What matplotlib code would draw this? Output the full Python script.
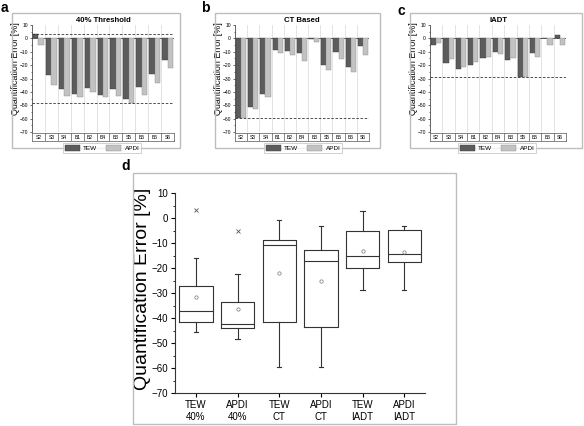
import numpy as np
import matplotlib
matplotlib.use('Agg')
from matplotlib import pyplot as plt
from matplotlib.patches import Rectangle, Patch

plt.rcParams['font.family'] = ['Liberation Sans', 'DejaVu Sans']

# values
categories = ['S2', 'S3', 'S4', 'B1', 'B2', 'B4', 'B3', 'S5', 'B5', 'B6', 'S6']
tew_40 = [3.2, -27.3, -38.0, -41.7, -37.2, -42.7, -38.0, -45.4, -36.7, -27.0, -15.9]
apdi_40 = [-5.0, -35.2, -43.4, -43.9, -40.2, -43.9, -43.2, -48.4, -42.2, -33.7, -22.3]
tew_ct = [-59.5, -51.5, -41.5, -8.75, -9.5, -10.75, -0.75, -20.0, -10.25, -21.5, -6.0]
apdi_ct = [-59.5, -52.5, -43.75, -11.0, -12.75, -17.0, -3.0, -23.5, -15.75, -25.5, -12.75]
tew_iadt = [-5.0, -18.25, -23.0, -20.0, -15.0, -10.25, -16.0, -28.75, -11.25, 0.25, 2.75]
apdi_iadt = [-3.25, -15.75, -21.25, -17.5, -13.75, -11.5, -14.75, -28.75, -14.25, -4.75, -4.75]
box_labels = ['TEW\n40%', 'APDI\n40%', 'TEW\nCT', 'APDI\nCT', 'TEW\nIADT', 'APDI\nIADT']

TEW_COLOR = '#5c5c5c'
APDI_COLOR = '#c2c2c2'

W, H = 584, 426
fig = plt.figure(figsize=(W / 100, H / 100), dpi=100)


def rect(x0, y0, x1, y1):
    # pixel box (top-left origin) -> figure fraction
    return [x0 / W, 1 - y1 / H, (x1 - x0) / W, (y1 - y0) / H]


def frame(x0, y0, x1, y1):
    fig.patches.append(Rectangle((x0 / W, 1 - y1 / H), (x1 - x0) / W, (y1 - y0) / H,
                                 transform=fig.transFigure, fill=False,
                                 ec='#bdbdbd', lw=1.0, zorder=0))


def bar_panel(letter, title, tew, apdi, refs, box, plot, label_right, letter_xy, legend_x):
    frame(*box)
    px0, py0, px1, py1 = plot
    ax = fig.add_axes(rect(px0, py0, px1, py1))
    x = np.arange(len(categories))
    ax.bar(x - 0.21, tew, 0.42, color=TEW_COLOR, ec='#3c3c3c', lw=0.3, zorder=3)
    ax.bar(x + 0.21, apdi, 0.42, color=APDI_COLOR, ec='#8c8c8c', lw=0.3, zorder=3)
    for b in np.arange(len(categories) + 1) - 0.5:
        ax.axvline(b, color='#dedede', lw=0.6, zorder=0)
    ax.axhline(0, color='#444444', lw=0.6, zorder=2)
    for r in refs:
        ax.axhline(r, color='#333333', lw=0.6, ls=(0, (3, 2)), zorder=4)
    ax.set_xlim(-0.5, len(categories) - 0.5)
    ax.set_ylim(-70, 10)
    ax.set_xticks([])
    ax.set_yticks(np.arange(-70, 11, 10))
    ax.set_yticks(np.arange(-70, 11, 5), minor=True)
    ax.tick_params(axis='y', which='major', labelsize=3.6, length=1.8, width=0.4, pad=1)
    ax.tick_params(axis='y', which='minor', length=1.0, width=0.4)
    for s in ['top', 'right', 'bottom']:
        ax.spines[s].set_visible(False)
    ax.spines['left'].set_linewidth(0.5)
    ax.spines['left'].set_color('#333333')
    ax.set_title(title, fontsize=5.6, fontweight='bold', pad=2.5)
    ax.set_ylabel('Quantification Error [%]', fontsize=6.4)
    ax.yaxis.set_label_coords((label_right - px0) / (px1 - px0), 0.59)

    # category row below the bars
    cx = fig.add_axes(rect(px0, py1 + 1, px1, py1 + 9))
    cx.set_xlim(-0.5, len(categories) - 0.5)
    cx.set_ylim(0, 1)
    cx.set_xticks([])
    cx.set_yticks([])
    for s in cx.spines.values():
        s.set_linewidth(0.5)
        s.set_color('#555555')
    for b in np.arange(1, len(categories)) - 0.5:
        cx.axvline(b, color='#555555', lw=0.5)
    for i, c in enumerate(categories):
        cx.text(i, 0.45, c, ha='center', va='center', fontsize=3.6)

    handles = [Patch(fc=TEW_COLOR, ec='#3c3c3c', lw=0.3),
               Patch(fc=APDI_COLOR, ec='#8c8c8c', lw=0.3)]
    leg = fig.legend(handles, ['TEW', 'APDI'], loc='center',
                     bbox_to_anchor=(legend_x / W, 1 - 148 / H), ncol=2,
                     fontsize=4.6, frameon=True, fancybox=False, edgecolor='#bbbbbb',
                     handlelength=2.4, handleheight=1.3, handletextpad=0.5,
                     columnspacing=1.4, borderpad=0.25, borderaxespad=0)
    leg.get_frame().set_linewidth(0.6)
    fig.text(letter_xy[0] / W, 1 - letter_xy[1] / H, letter, fontsize=10,
             fontweight='bold', va='baseline', ha='left')


bar_panel('a', '40% Threshold', tew_40, apdi_40,
          [max(tew_40 + apdi_40), min(tew_40 + apdi_40)],
          (12, 13, 180, 148), (32, 25, 174, 132), 20, (1, 12), 102)
bar_panel('b', 'CT Based', tew_ct, apdi_ct, [min(tew_ct + apdi_ct)],
          (215, 13, 380, 148), (235, 25, 369, 132), 223, (201, 12), 303)
bar_panel('c', 'IADT', tew_iadt, apdi_iadt, [min(tew_iadt + apdi_iadt)],
          (410, 13, 582, 148), (430, 25, 566, 132), 418, (397, 15), 497)


def box_stats(values, label):
    v = np.sort(np.asarray(values, dtype=float))
    q1, med, q3 = np.percentile(v, [25, 50, 75], method='weibull')
    iqr = q3 - q1
    lo, hi = q1 - 1.5 * iqr, q3 + 1.5 * iqr
    inside = v[(v >= lo) & (v <= hi)]
    return dict(label=label, med=med, q1=q1, q3=q3, mean=v.mean(),
                whislo=inside.min(), whishi=inside.max(),
                fliers=v[(v < lo) | (v > hi)])


series = [tew_40, apdi_40, tew_ct, apdi_ct, tew_iadt, apdi_iadt]
stats = [box_stats(s, l) for s, l in zip(series, box_labels)]

frame(133, 173, 456, 424)
fig.text(121 / W, 1 - 170 / H, 'd', fontsize=10, fontweight='bold', va='baseline')
axd = fig.add_axes(rect(175, 193, 425, 393))
line = dict(color='#333333', lw=0.8)
axd.bxp(stats, positions=range(1, 7), widths=0.8, showmeans=True, capwidths=0.1,
        boxprops=line, whiskerprops=line, capprops=line, medianprops=line,
        meanprops=dict(marker='o', ms=2.4, mfc='none', mec='#777777', mew=0.5),
        flierprops=dict(marker='x', ms=2.2, mec='#555555', mew=0.6))
axd.set_xlim(0.5, 6.5)
axd.set_ylim(-70, 10)
axd.set_yticks(np.arange(-70, 11, 10))
axd.set_yticks(np.arange(-70, 11, 5), minor=True)
axd.set_xticklabels(box_labels)
axd.tick_params(axis='both', which='major', labelsize=7, length=3, width=0.8, pad=2)
axd.tick_params(axis='y', which='minor', length=1.8, width=0.6)
axd.spines['top'].set_visible(False)
axd.spines['right'].set_visible(False)
for s in ['left', 'bottom']:
    axd.spines[s].set_linewidth(0.8)
    axd.spines[s].set_color('#333333')
axd.set_ylabel('Quantification Error [%]', fontsize=14)
axd.yaxis.set_label_coords((151 - 175) / 250, 0.52)

fig.savefig('out.png', dpi=100)
